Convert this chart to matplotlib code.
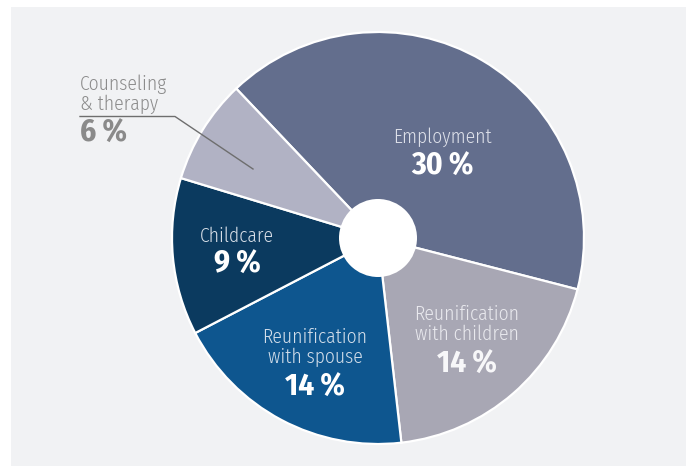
import matplotlib
matplotlib.use("Agg")
import matplotlib.pyplot as plt
from matplotlib.patches import Circle, Rectangle

# data
categories = ["Employment", "Reunification\nwith children", "Reunification\nwith spouse",
              "Childcare", "Counseling\n& therapy"]
shares = [30, 14, 14, 9, 6]
pct_labels = ["30%", "14%", "14%", "9%", "6%"]
colors = ["#636e8d", "#a8a7b4", "#0e568f", "#0b3a5f", "#b1b2c4"]

W, H = 686, 466
CX, CY, R = 378, 238, 206

label_font = ["Fira Sans Condensed", "Roboto Condensed", "DejaVu Sans"]
pct_font = ["Fira Sans Condensed", "Roboto Condensed", "DejaVu Sans"]

fig = plt.figure(figsize=(W / 100, H / 100), dpi=100)
ax = fig.add_axes([0, 0, 1, 1])

# light panel behind the chart
ax.add_patch(Rectangle((11, 7), W - 11, H - 7, facecolor="#f1f2f4", edgecolor="none", zorder=0))

# y axis is inverted below, so counterclock=True reads clockwise on screen
ax.pie(shares, colors=colors, center=(CX, CY), radius=R, startangle=-133.5,
       counterclock=True, frame=True,
       wedgeprops=dict(edgecolor="white", linewidth=1.6))
ax.set_xlim(0, W)
ax.set_ylim(H, 0)
ax.set_aspect("equal")
ax.axis("off")
ax.add_patch(Circle((CX, CY), 39, facecolor="white", edgecolor="none", zorder=5))

# label layout: x, baselines of text lines, baseline of percentage
layout = [
    (442, [143], 175, "center", "#dde0e9", "white"),
    (467, [320, 340], 373, "center", "#e9e9ee", "#f7f7f9"),
    (315, [343, 363], 396, "center", "#d3deea", "white"),
    (237, [242], 273, "center", "#d7dee7", "white"),
    (80, [90, 110], 142, "left", "#8c8c8c", "#8a8a8a"),
]

for cat, pct, (x, bases, pbase, ha, lc, pc) in zip(categories, pct_labels, layout):
    for line, yb in zip(cat.split("\n"), bases):
        ax.text(x, yb, line, ha=ha, va="baseline", fontsize=14, color=lc,
                family=label_font, fontweight=300, zorder=6)
    ax.text(x, pbase, pct.replace("%", "\u2009%"), ha=ha, va="baseline", fontsize=22.5,
            color=pc, fontweight="bold", family=pct_font, zorder=6)

# leader line for the small slice
ax.plot([80, 175, 253], [116.5, 116.5, 169], color="#6e6e6e", linewidth=1.0, zorder=6)

fig.savefig("out.png", dpi=100)
